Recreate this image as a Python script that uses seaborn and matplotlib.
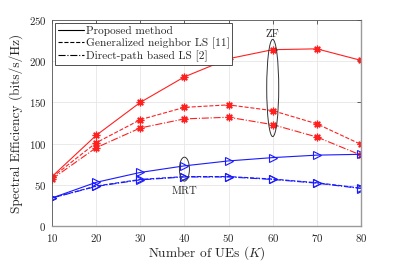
import matplotlib
matplotlib.use("Agg")
import matplotlib.pyplot as plt
from matplotlib.patches import Ellipse
from matplotlib.lines import Line2D
import seaborn as sns

K = [10, 20, 30, 40, 50, 60, 70, 80]
zf_prop = [60, 110, 150, 181, 203, 214, 215, 201]
zf_gen = [59, 101, 129, 144, 147, 140, 124, 99]
zf_dp = [57, 95, 119, 130, 132, 123, 108, 86]
mrt_prop = [34, 53, 65, 73, 79, 83, 86, 87]
mrt_gen = [34, 48.5, 56.5, 60, 60, 57, 52.5, 46]
mrt_dp = [34, 48, 56, 59.5, 59.5, 56.5, 52, 45.5]

legend_labels = ["Proposed method", "Generalized neighbor LS [11]", "Direct-path based LS [2]"]
x_ticks = [10, 20, 30, 40, 50, 60, 70, 80]
y_ticks = [0, 50, 100, 150, 200, 250]

sns.set_theme(style="whitegrid")
plt.rcParams["font.family"] = ["cmr10", "DejaVu Serif"]
plt.rcParams["mathtext.fontset"] = "cm"
plt.rcParams["axes.formatter.use_mathtext"] = True

fig = plt.figure(figsize=(3.99, 2.61), dpi=100)
ax = fig.add_axes([52/399, 1-226/261, (361-52)/399, (226-20)/261])

red = "#ff2020"
blue = "#1a1aff"
styles = ["-", "--", "-."]
for ys, ls in zip([zf_prop, zf_gen, zf_dp], styles):
    sns.lineplot(x=K, y=ys, ax=ax, color=red, linestyle=ls, linewidth=0.8,
                 marker=(8, 2, 0), markersize=5.5, markeredgecolor=red, markerfacecolor=red,
                 markeredgewidth=0.9)
for ys, ls in zip([mrt_prop, mrt_gen, mrt_dp], styles):
    sns.lineplot(x=K, y=ys, ax=ax, color=blue, linestyle=ls, linewidth=0.8,
                 marker=">", markersize=5.5, markeredgecolor=blue, markerfacecolor="none",
                 markeredgewidth=0.8)

ax.set_xlim(10, 80)
ax.set_ylim(0, 250)
ax.set_xticks(x_ticks)
ax.set_yticks(y_ticks)
ax.tick_params(axis="both", labelsize=7.8, direction="in", length=3, width=0.5,
               colors="#262626", top=True, right=True, pad=4)
ax.grid(True, color="#e6e6e6", linewidth=0.6)
ax.set_facecolor("white")
for s in ax.spines.values():
    s.set_color("#9a9a9a")
    s.set_linewidth(1.0)
ax.spines["top"].set_color("#555555")
ax.spines["top"].set_linewidth(0.6)
ax.spines["left"].set_color("#555555")
ax.spines["left"].set_linewidth(0.6)

ax.set_xlabel("Number of UEs ($K$)", fontsize=9.6, color="#262626", labelpad=0.5)
ax.set_ylabel("Spectral Efficiency (bits/s/Hz)", fontsize=9.6, color="#262626", labelpad=4)

ax.add_patch(Ellipse((60, 167.5), 2.72, 118, fill=False, edgecolor="#333333", linewidth=0.7, zorder=5))
ax.add_patch(Ellipse((40, 69), 2.27, 29, fill=False, edgecolor="#333333", linewidth=0.7, zorder=5))
ax.text(60, 233, "ZF", fontsize=7.8, ha="center", va="center", color="#262626")
ax.text(40, 42, "MRT", fontsize=7.8, ha="center", va="center", color="#262626")

handles = [Line2D([], [], color="black", linestyle=ls, linewidth=0.8) for ls in styles]
leg = ax.legend(handles, legend_labels, loc="upper left", fontsize=8.2, frameon=True,
                fancybox=False, edgecolor="#333333", framealpha=1, borderpad=0.25,
                handlelength=2.3, handletextpad=0.15, labelspacing=0.15,
                borderaxespad=0.25)
leg.get_frame().set_linewidth(0.6)

fig.savefig("out.png", dpi=100)
